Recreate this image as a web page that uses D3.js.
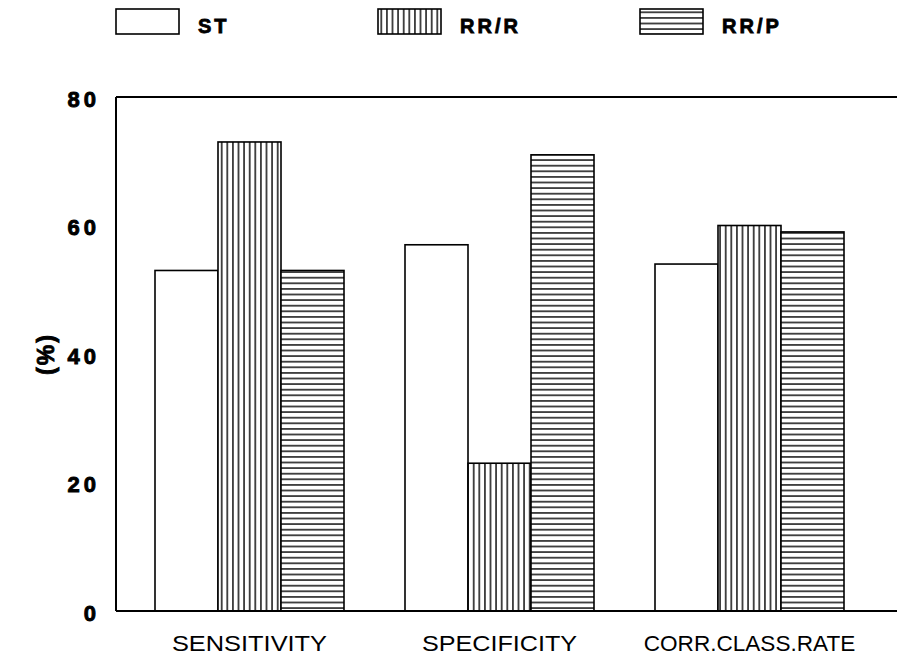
<!DOCTYPE html>
<html><head><meta charset="utf-8">
<script src="https://cdn.jsdelivr.net/npm/d3@7"></script>
<style>body{margin:0;background:#fff;} svg{display:block;}</style>
</head><body>
<script>
const categories = ["SENSITIVITY", "SPECIFICITY", "CORR.CLASS.RATE"];
const seriesNames = ["ST", "RR/R", "RR/P"];
const ST   = [53, 57, 54];
const RR_R = [73, 23, 60];
const RR_P = [53, 71, 59];
const yTicks = [0, 20, 40, 60, 80];
const yTitle = "(%)";

(function () {
const seriesValues = [ST, RR_R, RR_P];
const W = 897, H = 658;
const svg = d3.select("body").append("svg").attr("width", W).attr("height", H);

const defs = svg.append("defs");
const vp = defs.append("pattern").attr("id", "vstripe").attr("patternUnits", "userSpaceOnUse")
  .attr("width", 5.6).attr("height", 10).attr("x", 0.5);
vp.append("rect").attr("width", 5.6).attr("height", 10).attr("fill", "#fff");
vp.append("line").attr("x1", 2.8).attr("x2", 2.8).attr("y1", 0).attr("y2", 10).attr("stroke", "#000").attr("stroke-width", 1.4);
const hp = defs.append("pattern").attr("id", "hstripe").attr("patternUnits", "userSpaceOnUse")
  .attr("width", 10).attr("height", 5.6).attr("y", 0.5);
hp.append("rect").attr("width", 10).attr("height", 5.6).attr("fill", "#fff");
hp.append("line").attr("y1", 2.8).attr("y2", 2.8).attr("x1", 0).attr("x2", 10).attr("stroke", "#000").attr("stroke-width", 1.4);
const fills = ["#fff", "url(#vstripe)", "url(#hstripe)"];

const mLeft = 116, mRight = 897, mTop = 97, mBottom = 611;
const y = d3.scaleLinear().domain([0, 80]).range([mBottom, mTop]);
const x0 = d3.scaleBand().domain(categories).range([124.5, 874.5]).padding(0);
const x1 = d3.scaleBand().domain(seriesNames).range([0, 189]).padding(0);
const groupOffset = (x0.bandwidth() - 189) / 2;

// bars
const data = [];
categories.forEach((c, i) => seriesNames.forEach((s, j) => data.push({c, s, j, v: seriesValues[j][i]})));
svg.append("g").selectAll("rect").data(data).join("rect")
  .attr("x", d => x0(d.c) + groupOffset + x1(d.s))
  .attr("y", d => y(d.v))
  .attr("width", x1.bandwidth())
  .attr("height", d => y(0) - y(d.v))
  .attr("fill", d => fills[d.j])
  .attr("stroke", "#000").attr("stroke-width", 1.6);

// frame
const frame = svg.append("g").attr("stroke", "#000").attr("stroke-width", 2).attr("fill", "none");
frame.append("line").attr("x1", mLeft).attr("x2", mRight).attr("y1", y(80)).attr("y2", y(80));
frame.append("line").attr("x1", mLeft).attr("x2", mRight).attr("y1", y(0)).attr("y2", y(0));
frame.append("line").attr("x1", mLeft).attr("x2", mLeft).attr("y1", y(80)).attr("y2", y(0));

const boldFont = "Liberation Sans, Arial, sans-serif";

// y axis labels
const yAxis = d3.axisLeft(y).tickValues(yTicks).tickSize(0).tickPadding(16).tickFormat(d3.format("d"));
const ga = svg.append("g").attr("transform", `translate(${mLeft},0)`).call(yAxis);
ga.select(".domain").remove();
ga.selectAll("text").attr("font-family", boldFont)
  .attr("font-size", 22).attr("font-weight", "bold").attr("letter-spacing", 4)
  .attr("stroke", "#000").attr("stroke-width", 0.9)
  .attr("dy", "0.42em").attr("fill", "#000");

// x labels
svg.append("g").selectAll("text").data(categories).join("text")
  .attr("x", d => x0(d) + x0.bandwidth() / 2)
  .attr("y", 651)
  .attr("text-anchor", "middle")
  .attr("font-family", "Liberation Sans, Arial, sans-serif")
  .attr("font-size", 22)
  .attr("textLength", d => d.length * 14.1)
  .attr("lengthAdjust", "spacingAndGlyphs")
  .text(d => d);

// y title
svg.append("text").attr("transform", "translate(54,354) rotate(-90)")
  .attr("text-anchor", "middle")
  .attr("font-family", boldFont)
  .attr("font-size", 23).attr("font-weight", "bold").attr("letter-spacing", 2)
  .attr("stroke", "#000").attr("stroke-width", 0.9)
  .text(yTitle);

// legend
const legendX = d3.scalePoint().domain(seriesNames).range([116, 640]);
const lg = svg.append("g").selectAll("g").data(seriesNames).join("g")
  .attr("transform", d => `translate(${legendX(d)},9)`);
lg.append("rect").attr("width", 63).attr("height", 25)
  .attr("fill", (d, i) => fills[i]).attr("stroke", "#000").attr("stroke-width", 1.6);
lg.append("text").attr("x", 82).attr("y", 24)
  .attr("font-family", boldFont)
  .attr("font-size", 20).attr("font-weight", "bold").attr("letter-spacing", 3)
  .attr("stroke", "#000").attr("stroke-width", 0.8)
  .text(d => d);
})();
</script>
</body></html>
